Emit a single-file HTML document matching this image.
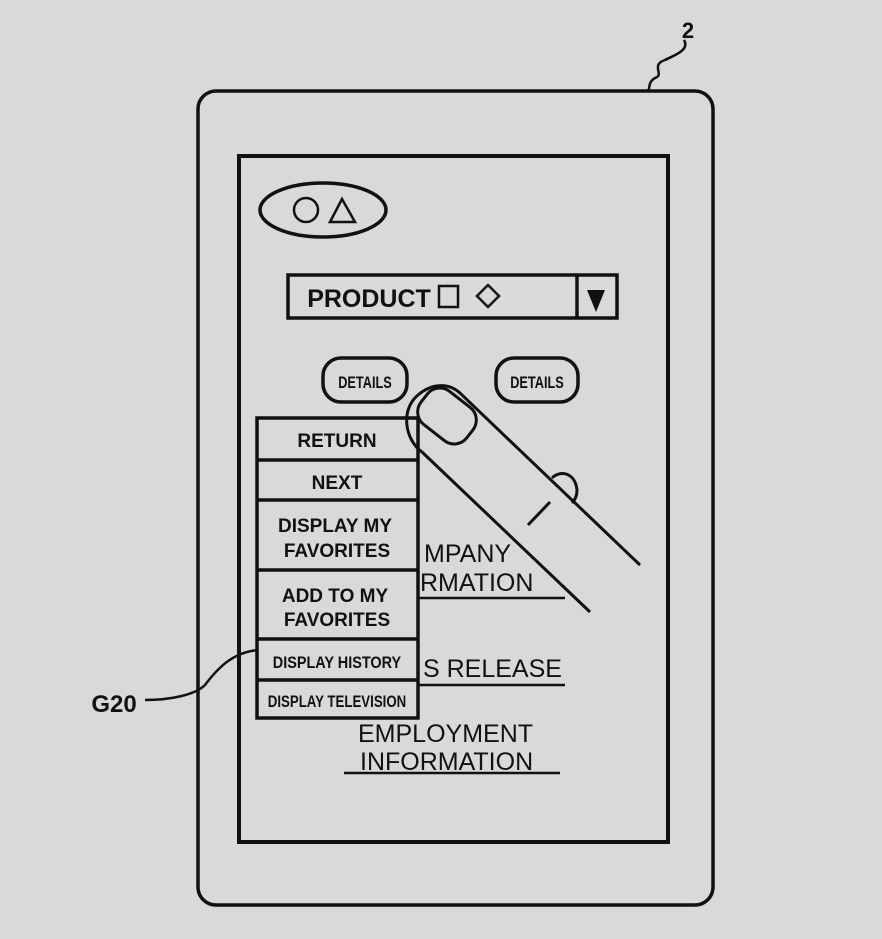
<!DOCTYPE html>
<html><head><style>html,body{margin:0;padding:0;background:#d9d9d9;}svg{display:block}</style></head>
<body>
<svg width="882" height="939" viewBox="0 0 882 939" xmlns="http://www.w3.org/2000/svg" font-family="Liberation Sans, sans-serif" font-weight="bold">
<rect width="882" height="939" fill="#d9d9d9"/>
<g fill="none" stroke="#111" stroke-width="3.5">
<rect x="198" y="91" width="515" height="814" rx="18"/>
<rect x="239" y="156" width="429" height="686" stroke-width="4"/>
<path d="M684 40 C690 50 675 55 665 60 C650 65 665 75 655 78 C648 82 650 88 648 92" stroke-width="2.5"/>
<ellipse cx="323" cy="210" rx="63" ry="27"/>
<circle cx="306" cy="210" r="12" stroke-width="2.5"/>
<path d="M330 222 L342 199 L355 222 Z" stroke-width="2.5"/>
<rect x="288" y="275" width="329" height="43"/>
<line x1="577" y1="275" x2="577" y2="318"/>
<rect x="439" y="286" width="19" height="21" stroke-width="2.5"/>
<path d="M477 296 L488 285 L499 296 L488 307 Z" stroke-width="2.5"/>
<rect x="323" y="358" width="84" height="44" rx="18"/>
<rect x="496" y="358" width="82" height="44" rx="18"/>
<rect x="257" y="418" width="161" height="300"/>
<line x1="257" y1="460" x2="418" y2="460"/>
<line x1="257" y1="500" x2="418" y2="500"/>
<line x1="257" y1="570" x2="418" y2="570"/>
<line x1="257" y1="639" x2="418" y2="639"/>
<line x1="257" y1="680" x2="418" y2="680"/>
<line x1="418" y1="598" x2="565" y2="598" stroke-width="2.5"/>
<line x1="418" y1="685" x2="565" y2="685" stroke-width="2.5"/>
<line x1="344" y1="773" x2="560" y2="773" stroke-width="2.5"/>
<path d="M422 452 C405 440 400 410 418 395 C432 383 450 382 462 395 L640 565" stroke-width="3"/>
<path d="M422 452 L590 612" stroke-width="3"/>
<rect x="418" y="395" width="58" height="42" rx="16" transform="rotate(38 447 416)" stroke-width="3"/>
<path d="M552 478 C560 470 575 472 577 490 C577 496 575 500 572 503" stroke-width="3"/>
<line x1="550" y1="502" x2="528" y2="525" stroke-width="3"/>
<path d="M145 700 C170 700 195 695 205 685 C220 665 235 652 258 650" stroke-width="2.5"/>
</g>
<g fill="#111" font-size="19" text-anchor="middle">
<text x="688" y="38" font-size="22">2</text>
<text x="369" y="307" font-size="25">PRODUCT</text>
<path d="M587 290 L605 290 L596 312 Z" fill="#111"/>
<text x="365" y="388" font-size="17" transform="translate(365 0) scale(0.75 1) translate(-365 0)">DETAILS</text>
<text x="537" y="388" font-size="17" transform="translate(537 0) scale(0.75 1) translate(-537 0)">DETAILS</text>
<text x="337" y="447">RETURN</text>
<text x="337" y="489">NEXT</text>
<text x="335" y="532">DISPLAY MY</text>
<text x="337" y="557">FAVORITES</text>
<text x="335" y="602">ADD TO MY</text>
<text x="337" y="626">FAVORITES</text>
<text x="337" y="668" font-size="17" transform="translate(337 0) scale(0.85 1) translate(-337 0)">DISPLAY HISTORY</text>
<text x="337" y="707" font-size="17" transform="translate(337 0) scale(0.78 1) translate(-337 0)">DISPLAY TELEVISION</text>
<g text-anchor="start" font-size="25" font-weight="normal">
<text x="424" y="562">MPANY</text>
<text x="420" y="591">RMATION</text>
<text x="423" y="677">S RELEASE</text>
<text x="358" y="742">EMPLOYMENT</text>
<text x="360" y="770">INFORMATION</text>
</g>
<text x="114" y="712" font-size="24">G20</text>
</g>
</svg>
</body></html>
